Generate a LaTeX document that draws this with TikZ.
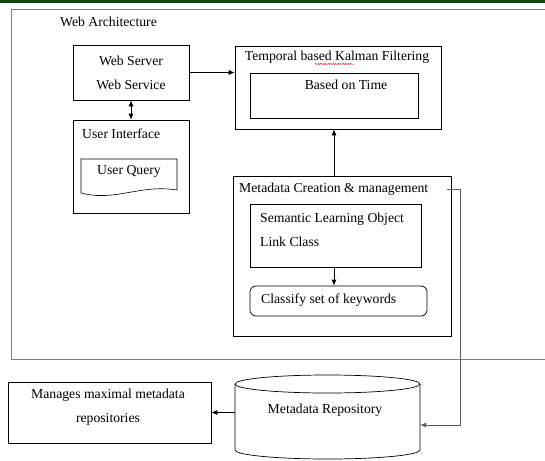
\documentclass[tikz,border=0pt]{standalone}
\usepackage{fontspec}
\setmainfont{Liberation Serif}
\usepackage{tikz}
\usetikzlibrary{arrows.meta}
\usetikzlibrary{decorations.pathmorphing}
\definecolor{topgreen}{RGB}{12,72,14}
\definecolor{framegray}{RGB}{128,128,128}
\definecolor{linkgray}{RGB}{90,90,90}

\begin{document}
\begin{tikzpicture}[x=1pt,y=-1pt,
  font=\fontsize{13.7}{16.4}\selectfont,
  >={Latex[length=6pt,width=5pt]},
  box/.style={draw,line width=0.7pt,inner sep=0pt},
  txt/.style={inner sep=0pt}]
\useasboundingbox (0,0) rectangle (545,460);
\fill[topgreen] (0,0) rectangle (545,3);
% outer frame, cut off on the right
\draw[framegray,line width=1pt] (546,10) -- (11,10) -- (11,359) -- (546,359);
\node[txt,anchor=west] (webarch) at (60,22) {Web Architecture};

% left column
\node[box,minimum width=116pt,minimum height=55pt,align=center] (ws) at (131,72.5) {Web Server\\[7.6pt]Web Service};
\node[box,minimum width=116pt,minimum height=93pt] (ui) at (131,166.5) {};
\node[txt,anchor=west] (uititle) at (82,134) {User Interface};
\draw[line width=0.6pt] (81,193) -- (81,159) -- (177,159) -- (177,190) .. controls (140,184) and (115,202) .. (81,193);
\node[txt] (query) at (129,171) {User Query};

% filtering
\node[box,minimum width=206pt,minimum height=83pt] (kal) at (338,87.5) {};
\node[txt] (kaltitle) at (337,57) {Temporal based Kalman Filtering};
\draw[red,line width=0.4pt,decorate,decoration={snake,amplitude=0.6pt,segment length=2.5pt}] (315,64) -- (354,64);
\node[box,minimum width=168pt,minimum height=45pt] (time) at (334,95.5) {};
\node[txt] (timetext) at (346,85) {Based on Time};

% metadata
\node[box,minimum width=218pt,minimum height=160pt] (meta) at (342,256) {};
\node[txt,anchor=west] (mtitle) at (239,189) {Metadata Creation \& management};
\node[box,minimum width=171pt,minimum height=63pt] (slo) at (335.5,235.5) {};
\node[txt,anchor=west,align=left] (slotext) at (260,230) {Semantic Learning Object\\[7.6pt]Link Class};
\node[box,rounded corners=6pt,minimum width=177pt,minimum height=30pt] (cls) at (338.5,301) {};
\node[txt,anchor=west] (clstext) at (261,300) {Classify set of keywords};

% bottom row
\node[box,minimum width=203pt,minimum height=61pt] (manage) at (109.5,412.5) {};
\node[txt,align=center] (managetext) at (108,407) {Manages maximal metadata\\[7.6pt]repositories};
\node[minimum width=185pt,minimum height=84pt,inner sep=0pt] (repo) at (327.5,417) {};
\draw[line width=0.7pt] (235,384) -- (235,450) arc[start angle=180,end angle=0,x radius=92.5,y radius=9] -- (420,384);
\draw[line width=0.7pt] (327.5,384) ellipse[x radius=92.5,y radius=9];
\node[txt] (repotext) at (325,410) {Metadata Repository};

% connectors
\draw[->,line width=0.7pt] (ws) -- (ws -| kal.west);
\draw[<->,line width=0.7pt] (ws) -- (ui);
\draw[->,line width=0.7pt] (meta.north -| time) -- (kal.south -| time);
\draw[->,line width=0.7pt] (slo.south -| time) -- (cls.north -| time);
\coordinate (mout) at (447,189);
\coordinate (turn) at (460,425);
\draw[->,linkgray,line width=0.8pt] (mout) -| (turn) -- (turn -| repo.east);
\draw[->,line width=0.7pt] (manage -| repo.west) -- (manage.east);
\end{tikzpicture}
\end{document}
